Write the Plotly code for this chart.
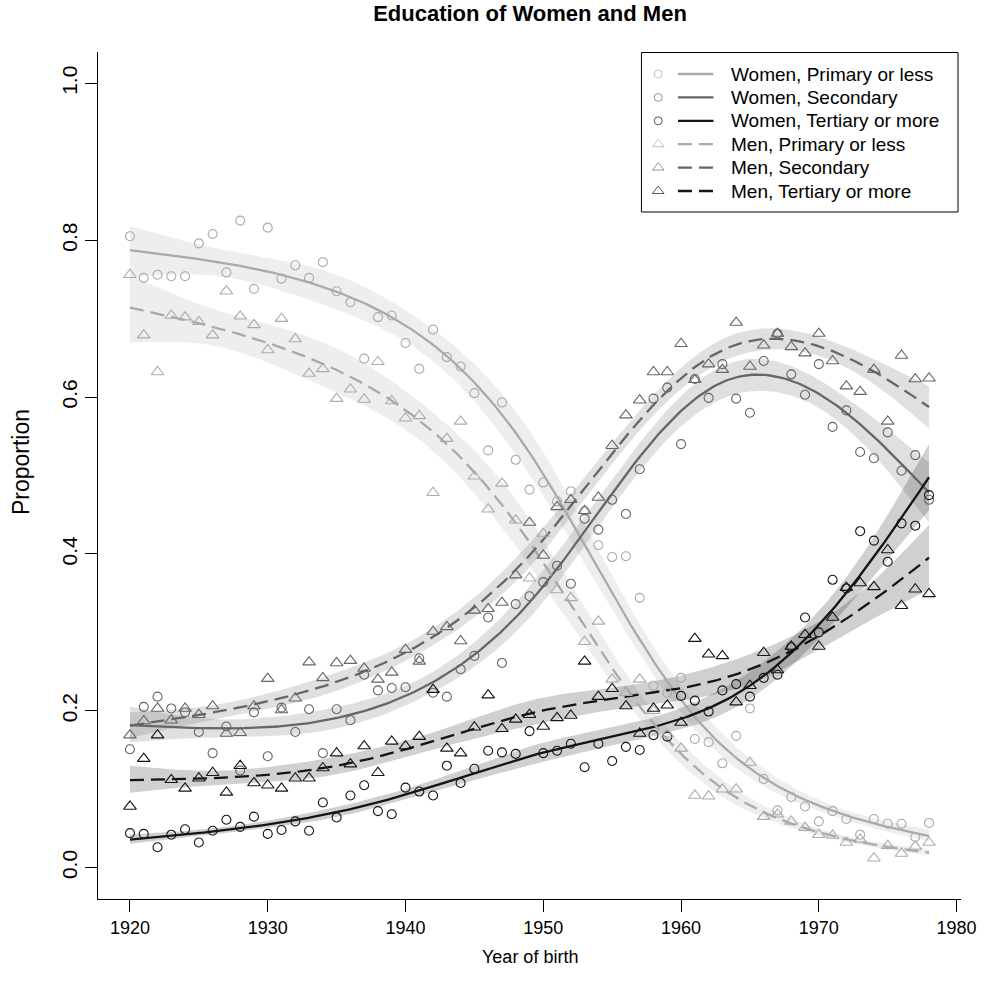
import numpy as np
import plotly.graph_objects as go

years = list(range(1920, 1979))

women_primary = [0.805, 0.752, 0.756, 0.754, 0.754, 0.796, 0.808, 0.759, 0.825, 0.738,
                 0.816, 0.751, 0.768, 0.752, 0.772, 0.735, 0.721, 0.649, 0.702, 0.704,
                 0.669, 0.636, 0.686, 0.651, 0.639, 0.605, 0.532, 0.593, 0.520, 0.482,
                 0.491, 0.467, 0.480, 0.455, 0.411, 0.396, 0.397, 0.344, 0.232, 0.223,
                 0.242, 0.164, 0.160, 0.133, 0.168, 0.203, 0.113, 0.073, 0.090, 0.078,
                 0.059, 0.072, 0.062, 0.042, 0.062, 0.056, 0.056, 0.039, 0.057]
women_secondary = [0.151, 0.205, 0.218, 0.203, 0.198, 0.173, 0.146, 0.180, 0.124, 0.198,
                   0.142, 0.204, 0.173, 0.202, 0.146, 0.202, 0.188, 0.246, 0.226, 0.229,
                   0.230, 0.267, 0.223, 0.218, 0.253, 0.270, 0.319, 0.261, 0.336, 0.346,
                   0.364, 0.385, 0.362, 0.445, 0.431, 0.469, 0.451, 0.508, 0.598, 0.612,
                   0.540, 0.623, 0.599, 0.642, 0.598, 0.580, 0.646, 0.681, 0.629, 0.603,
                   0.642, 0.562, 0.583, 0.530, 0.522, 0.555, 0.506, 0.526, 0.469]
women_tertiary = [0.044, 0.043, 0.026, 0.042, 0.049, 0.032, 0.047, 0.061, 0.052, 0.065,
                  0.043, 0.048, 0.059, 0.047, 0.083, 0.064, 0.092, 0.105, 0.072, 0.068,
                  0.102, 0.097, 0.092, 0.130, 0.108, 0.126, 0.149, 0.147, 0.145, 0.174,
                  0.146, 0.149, 0.158, 0.128, 0.158, 0.136, 0.154, 0.150, 0.169, 0.167,
                  0.219, 0.213, 0.199, 0.226, 0.234, 0.218, 0.242, 0.246, 0.281, 0.319,
                  0.300, 0.367, 0.356, 0.429, 0.417, 0.390, 0.439, 0.436, 0.475]
men_primary = [0.756, 0.679, 0.632, 0.704, 0.702, 0.696, 0.679, 0.735, 0.703, 0.692,
               0.660, 0.700, 0.674, 0.630, 0.636, 0.598, 0.610, 0.597, 0.645, 0.595,
               0.573, 0.576, 0.478, 0.547, 0.569, 0.499, 0.457, 0.490, 0.443, 0.369,
               0.426, 0.354, 0.344, 0.288, 0.314, 0.240, 0.223, 0.240, 0.200, 0.170,
               0.152, 0.092, 0.091, 0.100, 0.100, 0.134, 0.065, 0.068, 0.059, 0.051,
               0.042, 0.041, 0.032, 0.036, 0.012, 0.028, 0.018, 0.027, 0.032]
men_secondary = [0.169, 0.187, 0.203, 0.188, 0.203, 0.195, 0.206, 0.171, 0.172, 0.206,
                 0.241, 0.201, 0.216, 0.262, 0.242, 0.261, 0.264, 0.254, 0.240, 0.249,
                 0.278, 0.263, 0.301, 0.307, 0.289, 0.328, 0.330, 0.338, 0.373, 0.440,
                 0.398, 0.460, 0.469, 0.455, 0.472, 0.538, 0.577, 0.596, 0.632, 0.632,
                 0.668, 0.622, 0.642, 0.635, 0.695, 0.639, 0.666, 0.681, 0.664, 0.656,
                 0.681, 0.646, 0.614, 0.607, 0.635, 0.569, 0.653, 0.623, 0.624]
men_tertiary = [0.078, 0.139, 0.169, 0.112, 0.101, 0.114, 0.121, 0.096, 0.130, 0.108,
                0.105, 0.101, 0.114, 0.114, 0.127, 0.146, 0.132, 0.155, 0.121, 0.161,
                0.155, 0.167, 0.227, 0.152, 0.146, 0.179, 0.220, 0.177, 0.189, 0.195,
                0.180, 0.191, 0.194, 0.263, 0.218, 0.228, 0.206, 0.171, 0.203, 0.207,
                0.185, 0.292, 0.272, 0.270, 0.211, 0.232, 0.274, 0.252, 0.282, 0.297,
                0.282, 0.319, 0.357, 0.363, 0.358, 0.405, 0.334, 0.355, 0.349]

series_names = ["Women, Primary or less", "Women, Secondary", "Women, Tertiary or more",
                "Men, Primary or less", "Men, Secondary", "Men, Tertiary or more"]
series_values = [women_primary, women_secondary, women_tertiary,
                 men_primary, men_secondary, men_tertiary]
series_rgb = [(170, 170, 170), (102, 102, 102), (20, 20, 20),
              (170, 170, 170), (102, 102, 102), (20, 20, 20)]
series_symbol = ["circle-open", "circle-open", "circle-open",
                 "triangle-up-open", "triangle-up-open", "triangle-up-open"]
series_dash = ["solid", "solid", "solid", "14px,7px", "14px,7px", "14px,7px"]

x_ticks = [1920, 1930, 1940, 1950, 1960, 1970, 1980]
y_ticks = [0.0, 0.2, 0.4, 0.6, 0.8, 1.0]
y_tick_labels = ["0.0", "0.2", "0.4", "0.6", "0.8", "1.0"]

INTERIOR_KNOTS = [1934.5, 1949.0, 1963.5]
BOUNDARY = [1920.0, 1978.0]


def ns_basis(t):
    """Natural cubic spline basis (with intercept)."""
    t = np.asarray(t, float)
    lo, hi = BOUNDARY
    s = (t - lo) / (hi - lo)
    ks = [(k - lo) / (hi - lo) for k in [lo] + INTERIOR_KNOTS + [hi]]
    K = len(ks)

    def d(k):
        return (np.clip(s - ks[k], 0, None) ** 3 - np.clip(s - ks[K - 1], 0, None) ** 3) / (ks[K - 1] - ks[k])

    cols = [np.ones_like(s), s]
    for k in range(K - 2):
        cols.append(d(k) - d(K - 2))
    return np.column_stack(cols)


def smooth(x, y):
    x = np.asarray(x, float)
    y = np.clip(np.asarray(y, float), 1e-3, 1 - 1e-3)
    z = np.log(y / (1 - y))
    X = ns_basis(x)
    beta, *_ = np.linalg.lstsq(X, z, rcond=None)
    resid = z - X @ beta
    n, p = X.shape
    s2 = resid @ resid / (n - p)
    xtxi = np.linalg.pinv(X.T @ X)
    xs = np.linspace(x.min(), x.max(), 240)
    B = ns_basis(xs)
    f = B @ beta
    se = np.sqrt(np.einsum("ij,jk,ik->i", B, xtxi, B) * s2)
    inv = lambda u: 1 / (1 + np.exp(-u))
    return xs, inv(f), inv(f - 1.96 * se), inv(f + 1.96 * se)


def rgba(c, a):
    return "rgba(%d,%d,%d,%s)" % (c[0], c[1], c[2], a)


fig = go.Figure()
fits = [smooth(years, v) for v in series_values]

for (xs, fit, lo, hi), c in zip(fits, series_rgb):
    fig.add_trace(go.Scatter(
        x=np.concatenate([xs, xs[::-1]]), y=np.concatenate([hi, lo[::-1]]),
        fill="toself", fillcolor=rgba(c, 0.2), line=dict(width=0),
        mode="lines", hoverinfo="skip", showlegend=False))
for (xs, fit, lo, hi), c, d in zip(fits, series_rgb, series_dash):
    fig.add_trace(go.Scatter(x=xs, y=fit, mode="lines",
                             line=dict(color=rgba(c, 1), width=2.3, dash=d),
                             showlegend=False, hoverinfo="skip"))
for v, c, s in zip(series_values, series_rgb, series_symbol):
    fig.add_trace(go.Scatter(
        x=years, y=v, mode="markers", showlegend=False,
        marker=dict(symbol=s, size=9 if "circle" in s else 11,
                    color=rgba(c, 1), line=dict(width=1.1, color=rgba(c, 1)))))

# ---- R-style legend drawn on an overlay axis spanning the plot area ----
L, R_, T, B = 98.0, 973.0, 52.0, 899.0
W, H = R_ - L, B - T


def px(x):
    return (x - L) / W


def py(y):
    return (B - y) / H


leg_rows = [74.0 + 23.4 * i for i in range(6)]
bx0, bx1, by0, by1 = px(649), px(970), py(212), py(52.5)
fig.add_trace(go.Scatter(
    x=[bx0, bx1, bx1, bx0, bx0], y=[by0, by0, by1, by1, by0], xaxis="x2", yaxis="y2",
    mode="lines", fill="toself", fillcolor="white", line=dict(color="black", width=1),
    hoverinfo="skip", showlegend=False))
for r, c, d in zip(leg_rows, series_rgb, series_dash):
    fig.add_trace(go.Scatter(
        x=[px(686), px(722)], y=[py(r), py(r)], xaxis="x2", yaxis="y2", mode="lines",
        line=dict(color=rgba(c, 1), width=2.3, dash=d), hoverinfo="skip", showlegend=False))
fig.add_trace(go.Scatter(
    x=[px(666)] * 6, y=[py(r) for r in leg_rows], xaxis="x2", yaxis="y2",
    mode="markers", showlegend=False, hoverinfo="skip",
    marker=dict(symbol=series_symbol, size=[8, 8, 8, 10, 10, 10],
                color=[rgba(c, 1) for c in series_rgb],
                line=dict(width=1, color=[rgba(c, 1) for c in series_rgb]))))
for r, name in zip(leg_rows, series_names):
    fig.add_annotation(xref="paper", yref="paper", x=px(738), y=py(r),
                       text=name, showarrow=False, xanchor="left", yanchor="middle",
                       font=dict(size=19, color="black"))

# axis titles
fig.add_annotation(xref="paper", yref="paper", x=0.5, y=py(957), text="Year of birth",
                   showarrow=False, xanchor="center", yanchor="middle", font=dict(size=18))
fig.add_annotation(xref="paper", yref="paper", x=px(20), y=py(462), text="Proportion",
                   textangle=-90, showarrow=False, xanchor="center", yanchor="middle",
                   font=dict(size=23))

fig.update_layout(
    width=989, height=992,
    margin=dict(l=98, r=16, t=52, b=93),
    paper_bgcolor="white", plot_bgcolor="white",
    font=dict(family="Liberation Sans, Arial, sans-serif", color="black", size=18),
    title=dict(text="<b>Education of Women and Men</b>", x=px(536), xref="paper",
               xanchor="center", y=1 - 13 / 992, yanchor="middle", font=dict(size=22)),
    xaxis=dict(range=[1917.68, 1980.32], tickvals=x_ticks, ticks="outside", ticklen=12,
               tickcolor="black", showline=True, linecolor="black", linewidth=1,
               showgrid=False, zeroline=False, tickfont=dict(size=18)),
    yaxis=dict(range=[-0.04, 1.04], tickvals=y_ticks, ticktext=y_tick_labels,
               ticks="outside", ticklen=12, tickcolor="black", tickangle=-90,
               showline=True, linecolor="black", linewidth=1, showgrid=False,
               zeroline=False, tickfont=dict(size=21)),
    xaxis2=dict(overlaying="x", range=[0, 1], visible=False, fixedrange=True),
    yaxis2=dict(overlaying="y", range=[0, 1], visible=False, fixedrange=True),
)

fig.write_html("out.html")
